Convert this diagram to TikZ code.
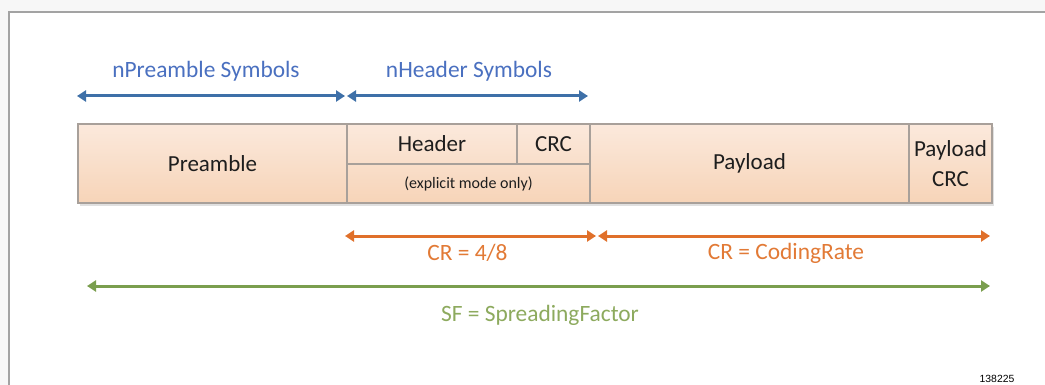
\documentclass[tikz,border=0pt]{standalone}
\usepackage{fontspec}
\setmainfont{Carlito}
\newfontfamily\tagfont{Liberation Sans}
\usetikzlibrary{arrows.meta,positioning}

\definecolor{pagegray}{HTML}{F7F7F7}
\definecolor{framegray}{HTML}{A3A3A3}
\definecolor{cellgray}{HTML}{A8A09A}
\definecolor{celltop}{HTML}{FBE9DC}
\definecolor{cellbot}{HTML}{F7D4B8}
\definecolor{celltext}{HTML}{1E1E1E}
\definecolor{arrowblue}{HTML}{3E70A8}
\definecolor{textblue}{HTML}{4A70C0}
\definecolor{arroworange}{HTML}{E0702A}
\definecolor{textorange}{HTML}{E27A36}
\definecolor{arrowgreen}{HTML}{7A9E4E}
\definecolor{textgreen}{HTML}{8DAA5E}

\begin{document}
\begin{tikzpicture}[x=0.5pt,y=-0.5pt,
  cell/.style={draw=cellgray,line width=0.6pt,inner sep=0pt,text=celltext,font=\fontsize{11.5}{13.5}\selectfont},
  dim/.style={line width=1.5pt,{Triangle[length=4.5pt,width=5.5pt]}-{Triangle[length=4.5pt,width=5.5pt]}},
  dimlabel/.style={font=\fontsize{11.7}{14}\selectfont,inner sep=0pt}]
\useasboundingbox (0,0) rectangle (1045,385);

% page and frame
\fill[pagegray] (0,0) rectangle (1045,385);
\fill[white] (9,12) rectangle (1045,385);
\draw[framegray,line width=1pt] (9,385) -- (9,12) -- (1045,12);

% shadow and shading of the frame strip
\fill[black,opacity=0.12] (80,127) rectangle (994,206);
\shade[top color=celltop,bottom color=cellbot] (78,124) rectangle (992,203);

% frame cells
\node[cell,minimum width=134.5pt,minimum height=39.5pt] (preamble) at (212.5,163.5) {Preamble};
\node[cell,minimum width=85pt,minimum height=20pt] (header) at (432,144) {Header};
\node[cell,minimum width=36.5pt,minimum height=20pt] (hcrc) at (553.5,144) {CRC};
\node[cell,minimum width=121.5pt,minimum height=19.5pt,font=\fontsize{8}{10}\selectfont] (explicit) at (468.5,183.5) {(explicit mode only)};
\node[cell,minimum width=159.5pt,minimum height=39.5pt] (payload) at (749.5,163.5) {Payload};
\node[cell,minimum width=41.5pt,minimum height=39.5pt,align=center] (pcrc) at (950.5,163.5) {Payload\\[1.5pt]CRC};

% symbol counts
\coordinate (np-l) at (77,96);
\coordinate (np-r) at (345,96);
\coordinate (nh-l) at (347,96);
\coordinate (nh-r) at (588,96);
\draw[dim,arrowblue] (np-l) -- (np-r);
\draw[dim,arrowblue] (nh-l) -- (nh-r);
\node[dimlabel,text=textblue] (nplabel) at (206,71) {nPreamble Symbols};
\node[dimlabel,text=textblue] (nhlabel) at (469,71) {nHeader Symbols};

% coding rates
\coordinate (cr1-l) at (345,236);
\coordinate (cr1-r) at (596,236);
\coordinate (cr2-l) at (598,236);
\coordinate (cr2-r) at (990,236);
\draw[dim,arroworange] (cr1-l) -- (cr1-r);
\draw[dim,arroworange] (cr2-l) -- (cr2-r);
\node[dimlabel,text=textorange] (cr1label) at (467.5,253) {CR = 4/8};
\node[dimlabel,text=textorange] (cr2label) at (786,253) {CR = CodingRate};

% spreading factor
\coordinate (sf-l) at (87,286);
\coordinate (sf-r) at (990,286);
\draw[dim,arrowgreen] (sf-l) -- (sf-r);
\node[dimlabel,text=textgreen] (sflabel) at (540,315) {SF = SpreadingFactor};

\node[inner sep=0pt,font=\tagfont\fontsize{5.2}{6}\selectfont] (figtag) at (997,379) {138225};
\end{tikzpicture}
\end{document}
